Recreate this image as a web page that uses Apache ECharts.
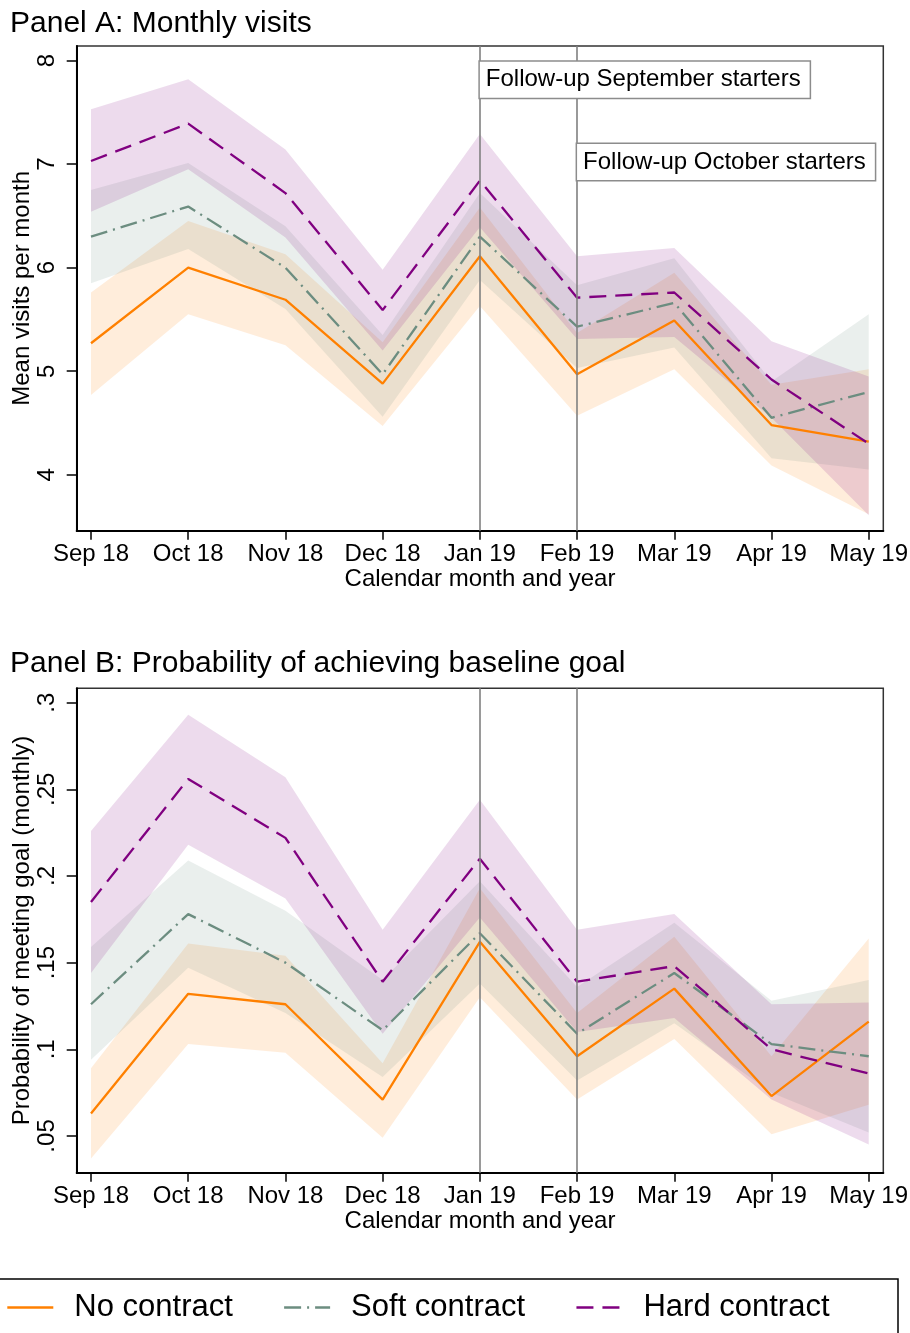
<!DOCTYPE html>
<html>
<head>
<meta charset="utf-8">
<script src="https://cdn.jsdelivr.net/npm/echarts@6/dist/echarts.min.js"></script>
<style>
  html, body { margin: 0; padding: 0; background: #fff; }
  #chart { width: 910px; height: 1333px; }
</style>
</head>
<body>
<div id="chart"></div>
<script>
const FONT = '"Liberation Sans", Arial, sans-serif';
const ORANGE = '#ff8000';
const SAGE = '#6c8d80';
const PURPLE = '#800080';
const BAND_OPACITY = .14;

const months = ['Sep 18', 'Oct 18', 'Nov 18', 'Dec 18', 'Jan 19', 'Feb 19', 'Mar 19', 'Apr 19', 'May 19'];
const visitTicks = [4, 5, 6, 7, 8];
const goalTicks = [.05, .1, .15, .2, .25, .3];

// Panel A: mean visits per month, with 95% bands
const visitsNo = [5.27, 6.00, 5.69, 4.88, 6.11, 4.97, 5.49, 4.48, 4.32];
const visitsNoLo = [4.77, 5.55, 5.25, 4.47, 5.63, 4.57, 5.02, 4.09, 3.62];
const visitsNoHi = [5.76, 6.45, 6.13, 5.28, 6.58, 5.37, 5.95, 4.87, 5.02];

const visitsSoft = [6.30, 6.59, 6.00, 4.97, 6.30, 5.43, 5.66, 4.55, 4.80];
const visitsSoftLo = [5.85, 6.18, 5.60, 4.56, 5.88, 5.03, 5.23, 4.16, 4.05];
const visitsSoftHi = [6.75, 7.01, 6.40, 5.35, 6.72, 5.83, 6.09, 4.90, 5.55];

const visitsHard = [7.03, 7.39, 6.72, 5.59, 6.84, 5.71, 5.76, 4.92, 4.30];
const visitsHardLo = [6.54, 6.95, 6.29, 5.20, 6.39, 5.31, 5.33, 4.55, 3.61];
const visitsHardHi = [7.53, 7.82, 7.14, 5.98, 7.29, 6.11, 6.19, 5.29, 4.95];

// Panel B: probability of meeting goal
const goalNo = [0.063, 0.132, 0.126, 0.071, 0.162, 0.096, 0.135, 0.073, 0.116];
const goalNoLo = [0.037, 0.103, 0.098, 0.049, 0.130, 0.071, 0.106, 0.051, 0.068];
const goalNoHi = [0.089, 0.161, 0.154, 0.092, 0.193, 0.121, 0.165, 0.096, 0.164];

const goalSoft = [0.126, 0.178, 0.150, 0.111, 0.167, 0.109, 0.144, 0.103, 0.096];
const goalSoftLo = [0.094, 0.147, 0.121, 0.084, 0.138, 0.082, 0.115, 0.075, 0.052];
const goalSoftHi = [0.159, 0.209, 0.180, 0.140, 0.197, 0.136, 0.173, 0.128, 0.140];

const goalHard = [0.185, 0.256, 0.222, 0.139, 0.210, 0.139, 0.148, 0.100, 0.086];
const goalHardLo = [0.144, 0.218, 0.187, 0.109, 0.176, 0.110, 0.118, 0.071, 0.045];
const goalHardHi = [0.226, 0.293, 0.257, 0.169, 0.244, 0.169, 0.178, 0.126, 0.127];

const monthIdx = months.map((m, i) => i);
const withIndex = (arr) => arr.map((v, i) => [i, v]);

function band(name, axisIndex, lo, hi, color) {
  return {
    name: name,
    type: 'custom',
    xAxisIndex: axisIndex,
    yAxisIndex: axisIndex,
    silent: true,
    z: 1,
    data: lo.map((v, i) => [i, v, hi[i]]),
    encode: {x: 0, y: [1, 2]},
    renderItem: function (params, api) {
      if (params.dataIndex !== 0) return;
      const top = hi.map((v, i) => api.coord([i, v]));
      const bottom = lo.map((v, i) => api.coord([i, v])).reverse();
      return {
        type: 'polygon',
        shape: {points: top.concat(bottom)},
        style: {fill: color, opacity: BAND_OPACITY}
      };
    }
  };
}

function line(name, axisIndex, values, color, dash) {
  return {
    name: name,
    type: 'line',
    xAxisIndex: axisIndex,
    yAxisIndex: axisIndex,
    showSymbol: false,
    symbol: 'none',
    z: 3,
    data: withIndex(values),
    lineStyle: {color: color, width: 2.3, type: dash},
    itemStyle: {color: color}
  };
}

const followUpLines = {
  silent: true,
  symbol: ['none', 'none'],
  label: {show: false},
  lineStyle: {color: '#808080', width: 1.6, type: 'solid'},
  data: [{xAxis: 4}, {xAxis: 5}]
};

function xAxisFor(gridIndex) {
  return {
    type: 'value',
    gridIndex: gridIndex,
    min: -0.147,
    max: 8.15,
    name: 'Calendar month and year',
    nameLocation: 'middle',
    nameGap: 37,
    nameMoveOverlap: false,
    nameTextStyle: {fontSize: 24, color: '#000', fontFamily: FONT},
    axisLine: {show: true, onZero: false, lineStyle: {color: '#000', width: 2}},
    axisTick: {show: true, length: 9, customValues: monthIdx, lineStyle: {color: '#000', width: 1.5}},
    axisLabel: {
      customValues: monthIdx,
      formatter: (v) => months[Math.round(v)],
      fontSize: 24, color: '#000', fontFamily: FONT, margin: 12
    },
    splitLine: {show: false}
  };
}

function yAxisFor(gridIndex, name, min, max, ticks, fmt) {
  return {
    type: 'value',
    gridIndex: gridIndex,
    min: min,
    max: max,
    name: name,
    nameLocation: 'middle',
    nameGap: 42,
    nameMoveOverlap: false,
    nameTextStyle: {fontSize: 24, color: '#000', fontFamily: FONT},
    axisLine: {show: true, onZero: false, lineStyle: {color: '#000', width: 2}},
    axisTick: {show: true, length: 10, customValues: ticks, lineStyle: {color: '#000', width: 1.5}},
    axisLabel: {
      customValues: ticks,
      formatter: fmt,
      rotate: 90,
      fontSize: 24, color: '#000', fontFamily: FONT, margin: 17
    },
    splitLine: {show: false}
  };
}

const chart = echarts.init(document.getElementById('chart'), null, {renderer: 'canvas'});

const gridBase = {
  left: 76.7, width: 806.6, show: true, borderColor: '#333', borderWidth: 1.5,
  containLabel: false, outerBoundsMode: 'none'
};

const option = {
  animation: false,
  backgroundColor: '#fff',
  textStyle: {fontFamily: FONT},
  title: [
    {text: 'Panel A: Monthly visits', left: 10, top: 9, padding: 0,
      textStyle: {fontSize: 30, fontWeight: 'normal', color: '#000', fontFamily: FONT}},
    {text: 'Panel B: Probability of achieving baseline goal', left: 10, top: 649, padding: 0,
      textStyle: {fontSize: 30, fontWeight: 'normal', color: '#000', fontFamily: FONT}}
  ],
  grid: [
    Object.assign({top: 46, height: 484.7}, gridBase),
    Object.assign({top: 688.3, height: 484.4}, gridBase)
  ],
  xAxis: [xAxisFor(0), xAxisFor(1)],
  yAxis: [
    yAxisFor(0, 'Mean visits per month', 3.46, 8.14, visitTicks, (v) => String(v)),
    yAxisFor(1, 'Probability of meeting goal (monthly)', 0.0288, 0.3083, goalTicks,
      (v) => String(+v.toFixed(2)).replace(/^0/, ''))
  ],
  legend: {
    data: ['No contract', 'Soft contract', 'Hard contract'],
    left: 6,
    top: 1292,
    padding: 0,
    itemGap: 50,
    itemWidth: 46,
    itemHeight: 14,
    selectedMode: false,
    itemStyle: {opacity: 0},
    lineStyle: {width: 2.6},
    textStyle: {fontSize: 31, color: '#000', fontFamily: FONT, padding: [0, 0, 0, 16]}
  },
  graphic: [
    {type: 'rect', silent: true, shape: {x: -2, y: 1279, width: 900, height: 80},
      style: {fill: 'none', stroke: '#000', lineWidth: 1.5}}
  ],
  series: [
    band('No band A', 0, visitsNoLo, visitsNoHi, ORANGE),
    band('Soft band A', 0, visitsSoftLo, visitsSoftHi, SAGE),
    band('Hard band A', 0, visitsHardLo, visitsHardHi, PURPLE),
    Object.assign(line('No contract', 0, visitsNo, ORANGE, 'solid'), {
      markLine: followUpLines,
      markPoint: {
        silent: true,
        symbol: 'rect',
        symbolSize: 0,
        label: {
          show: true, position: 'right', distance: 0,
          fontSize: 24, color: '#000', fontFamily: FONT,
          backgroundColor: '#fff', borderColor: '#8c8c8c', borderWidth: 1.5,
          padding: [5, 9, 5, 6], lineHeight: 26
        },
        data: [
          {coord: [4, 7.814], value: 'Follow-up September starters',
            label: {formatter: 'Follow-up September starters'}},
          {coord: [5, 7.02], value: 'Follow-up October starters',
            label: {formatter: 'Follow-up October starters'}}
        ]
      }
    }),
    line('Soft contract', 0, visitsSoft, SAGE, [17, 6, 2, 6]),
    line('Hard contract', 0, visitsHard, PURPLE, [17, 9]),

    band('No band B', 1, goalNoLo, goalNoHi, ORANGE),
    band('Soft band B', 1, goalSoftLo, goalSoftHi, SAGE),
    band('Hard band B', 1, goalHardLo, goalHardHi, PURPLE),
    Object.assign(line('No contract', 1, goalNo, ORANGE, 'solid'), {markLine: followUpLines}),
    line('Soft contract', 1, goalSoft, SAGE, [17, 6, 2, 6]),
    line('Hard contract', 1, goalHard, PURPLE, [17, 9])
  ]
};

chart.setOption(option);
</script>
</body>
</html>
